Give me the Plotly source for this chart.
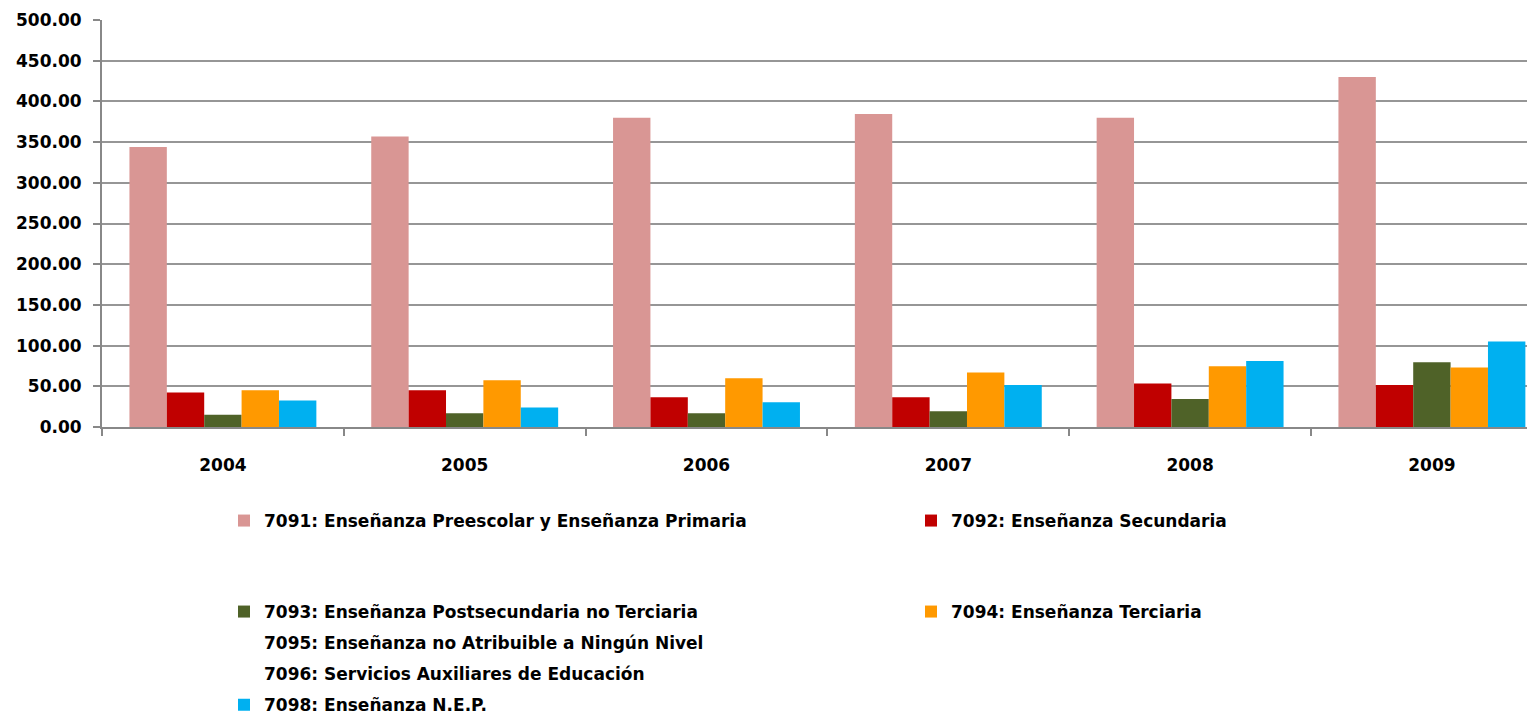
import plotly.graph_objects as go

years = ["2004", "2005", "2006", "2007", "2008", "2009"]

s7091 = [344.0, 357.0, 380.0, 384.5, 380.0, 430.0]
s7092 = [42.5, 45.0, 36.5, 36.5, 53.5, 51.5]
s7093 = [15.0, 17.0, 17.0, 19.5, 34.5, 79.5]
s7094 = [45.0, 57.5, 60.0, 67.0, 74.5, 73.0]
s7095 = [None, None, None, None, None, None]
s7096 = [None, None, None, None, None, None]
s7098 = [32.5, 24.0, 30.5, 51.5, 81.0, 105.0]

names = {
    "7091": "7091: Enseñanza Preescolar y Enseñanza Primaria",
    "7092": "7092: Enseñanza Secundaria",
    "7093": "7093: Enseñanza Postsecundaria no Terciaria",
    "7094": "7094: Enseñanza Terciaria",
    "7095": "7095: Enseñanza no Atribuible a Ningún Nivel",
    "7096": "7096: Servicios Auxiliares de Educación",
    "7098": "7098: Enseñanza N.E.P.",
}

colors = {
    "7091": "#D99694",
    "7092": "#C00000",
    "7093": "#4F6228",
    "7094": "#FF9900",
    "7098": "#00B0F0",
}

FONT = "DejaVu Sans"
OFF = 8  # page body margin
W, H = 1535 - OFF, 715 - OFF

fig = go.Figure()

def bar(key, vals, legend):
    fig.add_trace(go.Bar(
        x=years, y=vals, name=names[key],
        marker=dict(color=colors[key], line=dict(width=0)),
        legend=legend, legendgroup=key,
    ))

def placeholder(key, vals, legend):
    fig.add_trace(go.Scatter(
        x=years, y=vals, name=names[key], mode="markers",
        marker=dict(color="rgba(0,0,0,0)", size=1),
        legend=legend, legendgroup=key, hoverinfo="skip",
    ))

bar("7091", s7091, "legend")
bar("7092", s7092, "legend")
bar("7093", s7093, "legend2")
bar("7094", s7094, "legend2")
placeholder("7095", s7095, "legend3")
placeholder("7096", s7096, "legend3")
bar("7098", s7098, "legend3")

plot_left = 102 - OFF
plot_top = 20 - OFF
plot_bottom = 427 - OFF
cat_px = 241.8
x_max = -0.5 + (W - plot_left) / cat_px

legend_font = dict(family=FONT, size=17, color="#000000", weight="bold")
leg_x = (244 - OFF - 20) / W

fig.update_layout(
    width=W, height=H,
    margin=dict(l=plot_left, r=0, t=plot_top, b=H - plot_bottom, autoexpand=False),
    paper_bgcolor="white", plot_bgcolor="white",
    barmode="group", bargap=0.227, bargroupgap=0,
    font=dict(family=FONT, size=17, color="#000000", weight="bold"),
    legend=dict(
        orientation="h", xref="container", yref="container",
        x=leg_x, y=1 - (521 - OFF) / H, xanchor="left", yanchor="middle",
        entrywidth=642, entrywidthmode="pixels",
        font=legend_font, bgcolor="rgba(0,0,0,0)",
    ),
    legend2=dict(
        orientation="h", xref="container", yref="container",
        x=leg_x, y=1 - (612 - OFF) / H, xanchor="left", yanchor="middle",
        entrywidth=642, entrywidthmode="pixels",
        font=legend_font, bgcolor="rgba(0,0,0,0)",
    ),
    legend3=dict(
        orientation="v", xref="container", yref="container",
        x=leg_x, y=1 - (625 - OFF) / H, xanchor="left", yanchor="top",
        traceorder="grouped", tracegroupgap=6,
        font=legend_font, bgcolor="rgba(0,0,0,0)",
    ),
)

fig.update_xaxes(
    type="category", range=[-0.5, x_max],
    showline=True, linecolor="#888888", linewidth=2,
    ticks="outside", tickson="boundaries", ticklen=7, tickcolor="#888888", tickwidth=1.5,
    ticklabelstandoff=22,
    tickfont=dict(family=FONT, size=17, color="#000000", weight="bold"),
    showgrid=False, zeroline=False,
)

fig.update_yaxes(
    range=[0, 500], dtick=50, tickformat=".2f",
    showline=True, linecolor="#888888", linewidth=2,
    ticks="outside", ticklen=7, tickcolor="#888888", tickwidth=1.5,
    ticklabelstandoff=8,
    tickfont=dict(family=FONT, size=17, color="#000000", weight="bold"),
    showgrid=True, gridcolor="#969696", gridwidth=2,
    zeroline=False,
)

fig.write_html("out.html")
